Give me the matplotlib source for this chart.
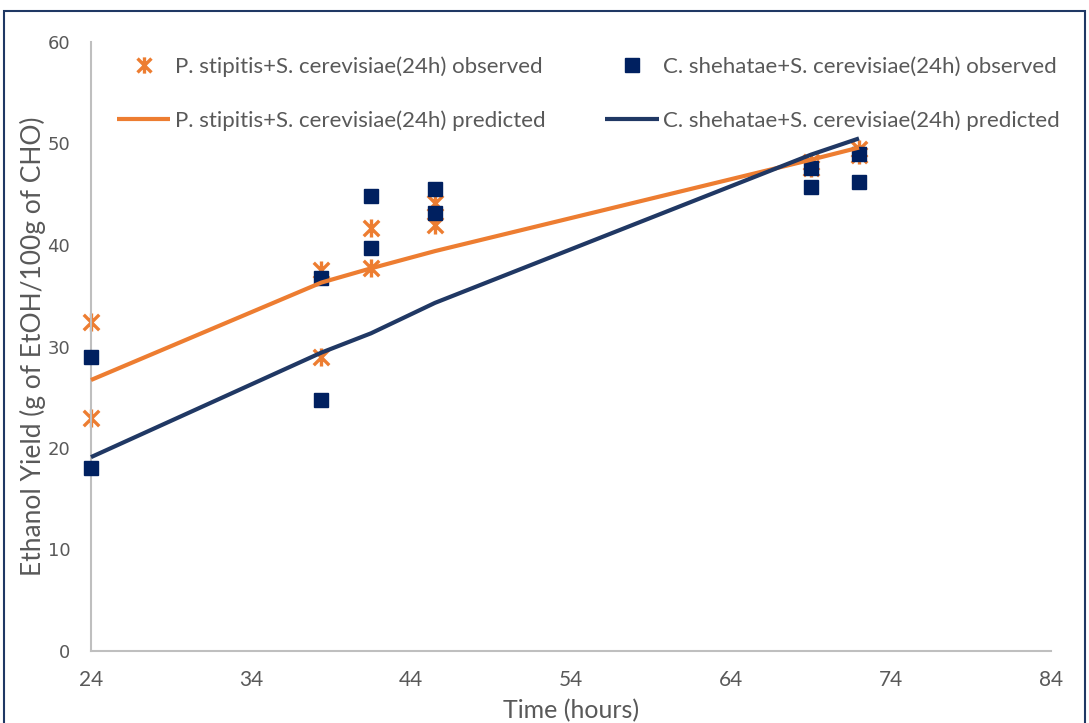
import matplotlib
matplotlib.use("Agg")
import matplotlib.pyplot as plt
from matplotlib.path import Path
from matplotlib.patches import Rectangle

# Sampling times (hours)
times = [24, 38.4, 41.5, 45.5, 69, 72]
obs_times = [24, 24, 38.4, 38.4, 41.5, 41.5, 45.5, 45.5, 69, 69, 72, 72]

# Ethanol yield, g EtOH / 100 g CHO
ps_observed = [32.4, 23.0, 37.5, 29.0, 41.7, 37.7, 44.1, 42.0, 48.2, 47.6, 49.5, 48.9]
cs_observed = [29.0, 18.0, 36.7, 24.7, 44.8, 39.7, 45.5, 43.2, 47.6, 45.7, 49.0, 46.2]
ps_predicted = [26.7, 36.3, 37.7, 39.4, 48.4, 49.6]
cs_predicted = [19.1, 29.4, 31.3, 34.3, 48.9, 50.5]

x_ticks = [24, 34, 44, 54, 64, 74, 84]
y_ticks = [0, 10, 20, 30, 40, 50, 60]

ps_label_obs = "P. stipitis+S. cerevisiae(24h) observed"
cs_label_obs = "C. shehatae+S. cerevisiae(24h) observed"
ps_label_pred = "P. stipitis+S. cerevisiae(24h) predicted"
cs_label_pred = "C. shehatae+S. cerevisiae(24h) predicted"

ORANGE = "#ED7D31"
NAVY_MARK = "#002060"
NAVY_LINE = "#203864"
TEXT = "#595959"
AXIS = "#BFBFBF"
FONT = "Lato"

# six-armed asterisk marker: an X crossed by a vertical bar
star = Path(
    [(-0.9, -0.9), (0.9, 0.9), (-0.9, 0.9), (0.9, -0.9), (0, -1.05), (0, 1.05)],
    [Path.MOVETO, Path.LINETO, Path.MOVETO, Path.LINETO, Path.MOVETO, Path.LINETO],
)

fig = plt.figure(figsize=(10.89, 7.23), dpi=100)
ax = fig.add_axes([91 / 1089, 1 - 651 / 723, 960 / 1089, 609 / 723])

ax.plot(obs_times, ps_observed, linestyle="none", marker=star, markersize=13,
        markeredgewidth=2.4, color=ORANGE, label=ps_label_obs, zorder=2)
ax.plot(obs_times, cs_observed, linestyle="none", marker="s", markersize=10.5,
        color=NAVY_MARK, label=cs_label_obs, zorder=3)
ax.plot(times, ps_predicted, color=ORANGE, linewidth=3, label=ps_label_pred,
        zorder=4, solid_capstyle="butt")
ax.plot(times, cs_predicted, color=NAVY_LINE, linewidth=3, label=cs_label_pred,
        zorder=4, solid_capstyle="butt")

ax.set_xlim(24, 84)
ax.set_ylim(0, 60)
ax.set_xticks(x_ticks)
ax.set_yticks(y_ticks)
for s in ("top", "right"):
    ax.spines[s].set_visible(False)
for s in ("left", "bottom"):
    ax.spines[s].set_color(AXIS)
    ax.spines[s].set_linewidth(1.5)
ax.tick_params(axis="both", length=0, colors=TEXT)
ax.tick_params(axis="x", pad=14, labelsize=15)
ax.tick_params(axis="y", pad=15, labelsize=13)
for lab in ax.get_xticklabels():
    lab.set_fontfamily(FONT)
ax.set_xlabel("Time (hours)", fontsize=18, color=TEXT, family=FONT, labelpad=6)
ax.set_ylabel("Ethanol Yield (g of EtOH/100g of CHO)", fontsize=19, color=TEXT,
              family=FONT, labelpad=1)
for ln in ax.lines:
    ln.set_clip_on(False)

handles, labels = ax.get_legend_handles_labels()
order = [0, 2, 1, 3]
leg = ax.legend([handles[i] for i in order], [labels[i] for i in order],
                ncol=2, loc="upper left", bbox_to_anchor=(6 / 960, 1 + 6 / 609),
                frameon=False, prop={"family": FONT, "size": 16},
                handlelength=2.4, handletextpad=0.2, columnspacing=2.7,
                labelspacing=1.5, markerscale=0.9)
for t in leg.get_texts():
    t.set_color(TEXT)

fig.patches.append(Rectangle((4 / 1089, -0.02), 1081 / 1089, 1 - 11 / 723 + 0.02,
                             transform=fig.transFigure, fill=False,
                             edgecolor="#1F3864", linewidth=1.5))

fig.savefig("out.png", dpi=100)
